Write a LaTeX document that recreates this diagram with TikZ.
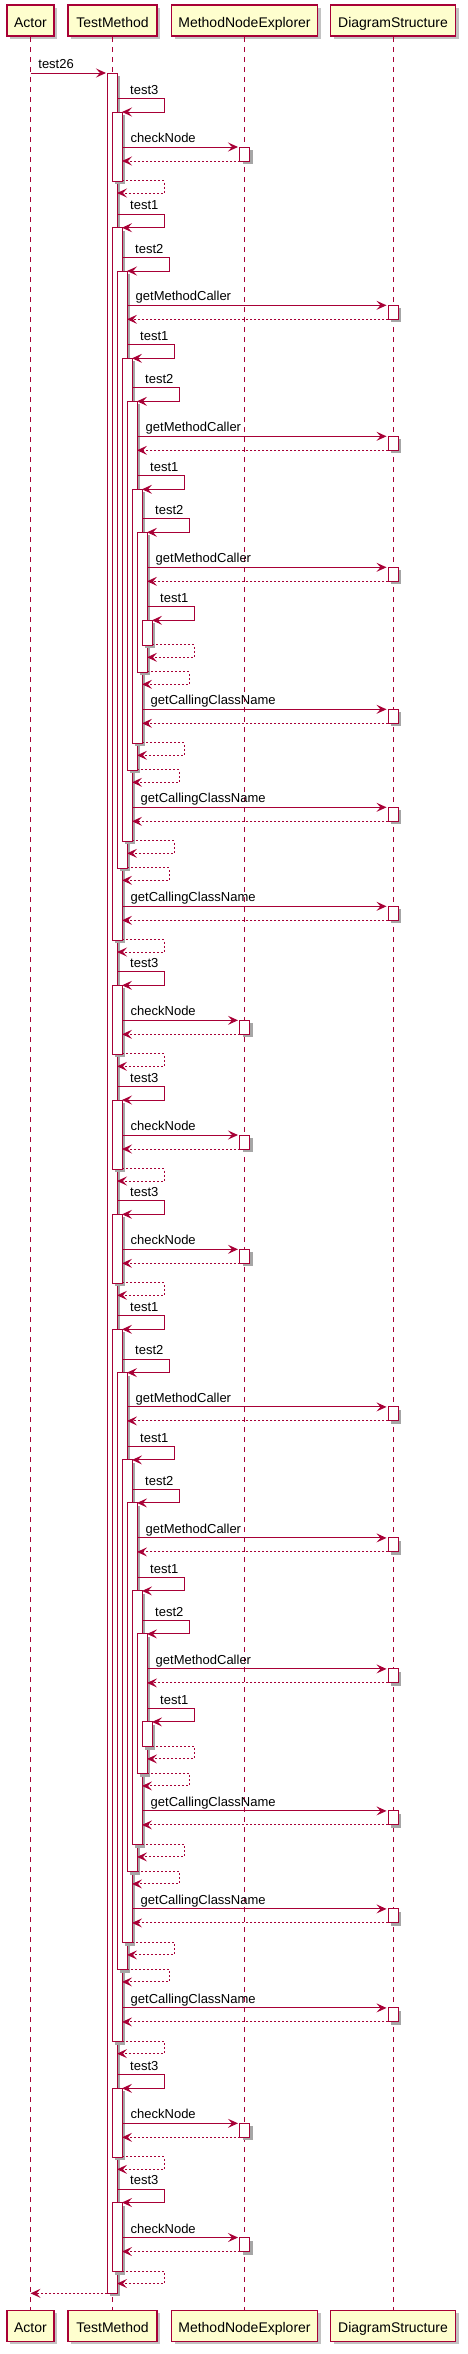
\documentclass[tikz,border=0pt]{standalone}
\usepackage{fontspec}
\setmainfont{Liberation Sans}
\usetikzlibrary{arrows.meta,shadows}
\definecolor{umlred}{HTML}{A80036}
\definecolor{umlfill}{HTML}{FEFECE}
\tikzset{
 part/.style={draw=umlred,line width=1.5pt,fill=umlfill,minimum height=31pt,inner sep=0pt,
  text height=14.5pt,text depth=0.5pt,font=\fontsize{14}{16}\selectfont,
  drop shadow={shadow xshift=3pt,shadow yshift=-3pt,fill=black!40,opacity=0.6}},
 life/.style={draw=umlred,line width=1pt,dash pattern=on 5pt off 5pt},
 msg/.style={draw=umlred,line width=1pt,-{Stealth[length=10pt,width=9pt,inset=4pt]}},
 ret/.style={msg,dash pattern=on 2pt off 2pt},
 bar/.style={draw=umlred,fill=white,line width=1pt},
 barshadow/.style={fill=black!35,draw=none},
 lbl/.style={inner sep=0pt,anchor=base west,font=\fontsize{13}{15}\selectfont}
}
\newcounter{lblno}

% activation bar on TestMethod: level, top, bottom
\newcommand\actbar[3]{%
 \pgfmathsetmacro\bx{107+5*(#1-1)}%
 \fill[barshadow] (\bx+3,#2+3) rectangle (\bx+13,#3+3);
 \draw[bar] (\bx,#2) rectangle (\bx+10,#3);
}
% self call: caller level, arrow y, label
\newcommand\selfcall[3]{%
 \pgfmathsetmacro\sx{117+5*(#1-1)}%
 \coordinate (from) at (\sx,#2-13.5);
 \coordinate (to) at (\sx+5,#2);
 \draw[msg] (from) -- (\sx+47,#2-13.5) -- (\sx+47,#2) -- (to);
 \stepcounter{lblno}\node[lbl] (lbl\arabic{lblno}) at (\sx+13,#2-17.8) {#3};
}
% self return: level returned to, arrow y
\newcommand\selfret[2]{%
 \pgfmathsetmacro\sx{117+5*(#1-1)}%
 \coordinate (from) at (\sx+5,#2-12.5);
 \coordinate (to) at (\sx,#2);
 \draw[ret] (from) -- (\sx+47,#2-12.5) -- (\sx+47,#2) -- (to);
}
% call to other lifeline: caller level, y, target x, label
\newcommand\farcall[4]{%
 \pgfmathsetmacro\sx{117+5*(#1-1)}%
 \fill[barshadow] (#3-2,#2+3) rectangle (#3+8,#2+17);
 \draw[bar] (#3-5,#2) rectangle (#3+5,#2+14);
 \coordinate (from) at (\sx,#2);
 \coordinate (to) at (#3-6.5,#2);
 \draw[msg] (from) -- (to);
 \draw[ret] (#3-5,#2+14) -- (from |- 0,#2+14);
 \stepcounter{lblno}\node[lbl] (lbl\arabic{lblno}) at (\sx+8.5,#2-4.5) {#4};
}
% test3 -> checkNode, arrow y
\newcommand\testthree[1]{%
 \actbar{2}{#1}{#1+69}
 \selfcall{1}{#1}{test3}
 \farcall{2}{#1+35}{\xmne}{checkNode}
 \selfret{1}{#1+81}
}
% test1 / test2 recursion
\newcommand\recblock{%
 \actbar{2}{227.7}{940.3}
 \actbar{3}{271}{868}
 \actbar{4}{358.3}{841}
 \actbar{5}{401.3}{770.3}
 \actbar{6}{489.3}{743.3}
 \actbar{7}{532.3}{672.3}
 \actbar{8}{620.3}{645.3}
 \selfcall{1}{227.7}{test1}
 \selfcall{2}{271}{test2}
 \farcall{3}{305.3}{\xds}{getMethodCaller}
 \selfcall{3}{358.3}{test1}
 \selfcall{4}{401.3}{test2}
 \farcall{5}{436.3}{\xds}{getMethodCaller}
 \selfcall{5}{489.3}{test1}
 \selfcall{6}{532.3}{test2}
 \farcall{7}{567.3}{\xds}{getMethodCaller}
 \selfcall{7}{620.3}{test1}
 \selfret{7}{657.3}
 \selfret{6}{684.3}
 \farcall{6}{709.3}{\xds}{getCallingClassName}
 \selfret{5}{755.3}
 \selfret{4}{782.3}
 \farcall{4}{807.3}{\xds}{getCallingClassName}
 \selfret{3}{853.3}
 \selfret{2}{880.3}
 \farcall{2}{906.3}{\xds}{getCallingClassName}
 \selfret{1}{952}
}

\begin{document}
\begin{tikzpicture}[x=1pt,y=-1pt]
\def\xmne{244.5}
\def\xds{393}
\useasboundingbox (0,0) rectangle (467,2354);

% participants, top and bottom
\node[part,minimum width=47pt] (actor) at (30.5,20.5) {Actor};
\node[part,minimum width=89pt] (testmethod) at (112.5,20.5) {TestMethod};
\node[part,minimum width=146pt] (explorer) at (\xmne,20.5) {MethodNodeExplorer};
\node[part,minimum width=125pt] (structure) at (\xds,20.5) {DiagramStructure};
\node[part,minimum width=47pt] (actorB) at (30.5,2325.8) {Actor};
\node[part,minimum width=89pt] (testmethodB) at (112.5,2325.8) {TestMethod};
\node[part,minimum width=146pt] (explorerB) at (\xmne,2325.8) {MethodNodeExplorer};
\node[part,minimum width=125pt] (structureB) at (\xds,2325.8) {DiagramStructure};

% lifelines
\draw[life] (actor) -- (actorB);
\draw[life] (testmethod) -- (testmethodB);
\draw[life] (explorer) -- (explorerB);
\draw[life] (structure) -- (structureB);

\actbar{1}{73}{2293.3}
\draw[msg] (actor |- 0,73) -- (106,73);
\node[lbl] (lblstart) at (38.2,68.5) {test26};

\testthree{112}

\begin{scope}[shift={(0,0)}] %first recursion
\recblock
\end{scope}

\testthree{985.3}
\testthree{1100}
\testthree{1214.3}

\begin{scope}[shift={(0,1101.6)}] %second recursion
\recblock
\end{scope}

\testthree{2088.3}
\testthree{2202.5}

\draw[ret] (107,2293.3) -- (actor |- 0,2293.3);
\end{tikzpicture}
\end{document}
